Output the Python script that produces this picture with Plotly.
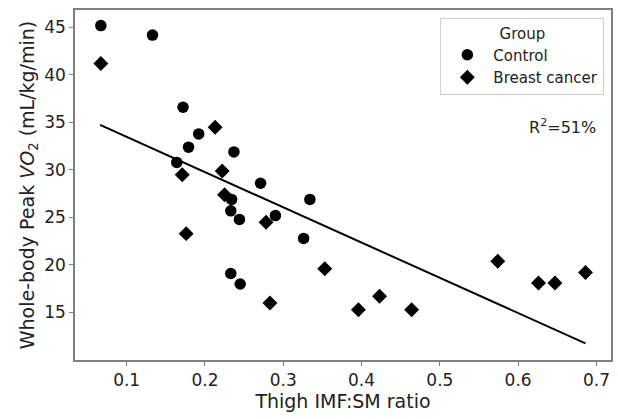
import plotly.graph_objects as go

# Control group
ctrl_x = [0.067, 0.133, 0.172, 0.192, 0.179, 0.237, 0.164, 0.271, 0.234, 0.334,
          0.233, 0.244, 0.290, 0.326, 0.233, 0.245]
ctrl_y = [45.2, 44.2, 36.6, 33.8, 32.4, 31.9, 30.8, 28.6, 26.9, 26.9,
          25.7, 24.8, 25.2, 22.8, 19.1, 18.0]

# Breast cancer group
bc_x = [0.067, 0.213, 0.222, 0.171, 0.225, 0.176, 0.278, 0.283, 0.353, 0.396,
        0.423, 0.464, 0.574, 0.626, 0.647, 0.686]
bc_y = [41.2, 34.5, 29.9, 29.5, 27.4, 23.3, 24.5, 16.0, 19.6, 15.3,
        16.7, 15.3, 20.4, 18.1, 18.1, 19.2]

# Regression line
fit_x = [0.066, 0.686]
fit_y = [34.75, 11.75]

x_ticks = [0.1, 0.2, 0.3, 0.4, 0.5, 0.6, 0.7]
y_ticks = [15, 20, 25, 30, 35, 40, 45]

FONT = "DejaVu Sans"
GRID = "#808080"

fig = go.Figure()
fig.add_trace(go.Scatter(x=ctrl_x, y=ctrl_y, mode="markers", name="Control",
                         marker=dict(symbol="circle", size=11.5, color="black")))
fig.add_trace(go.Scatter(x=bc_x, y=bc_y, mode="markers", name="Breast cancer",
                         marker=dict(symbol="diamond", size=11.5, color="black")))
fig.add_trace(go.Scatter(x=fit_x, y=fit_y, mode="lines", showlegend=False,
                         line=dict(color="black", width=2)))

fig.add_annotation(text="R<sup>2</sup>=51%", xref="paper", yref="paper",
                   x=0.976, y=0.666, xanchor="right", yanchor="middle",
                   showarrow=False, font=dict(family=FONT, size=16, color="#222"))

axis_common = dict(showline=True, linecolor=GRID, linewidth=1.5, mirror=True,
                   ticks="outside", ticklen=4, tickcolor=GRID, showgrid=False,
                   zeroline=False, tickfont=dict(family=FONT, size=17, color="#222"))

fig.update_layout(
    width=618, height=419,
    margin=dict(l=75, r=5, t=10, b=59),
    plot_bgcolor="white", paper_bgcolor="white",
    font=dict(family=FONT, color="#222"),
    xaxis=dict(range=[0.034, 0.7186], tickvals=x_ticks,
               ticktext=[f"{v:.1f}" for v in x_ticks],
               title=dict(text="Thigh IMF:SM ratio", font=dict(family=FONT, size=19),
                          standoff=4),
               **axis_common),
    yaxis=dict(range=[10.0, 46.84], tickvals=y_ticks,
               title=dict(text="Whole-body Peak <i>VO</i><sub>2</sub> (mL/kg/min)",
                          font=dict(family=FONT, size=19), standoff=5),
               **axis_common),
    legend=dict(x=0.9876, y=0.977, xanchor="right", yanchor="top",
                bordercolor="#d0d0d0", borderwidth=1, bgcolor="white",
                font=dict(family=FONT, size=15, color="#222"),
                title=dict(text="Group", side="top center",
                           font=dict(family=FONT, size=15, color="#222")),
                itemwidth=42),
)

fig.write_html("out.html")
